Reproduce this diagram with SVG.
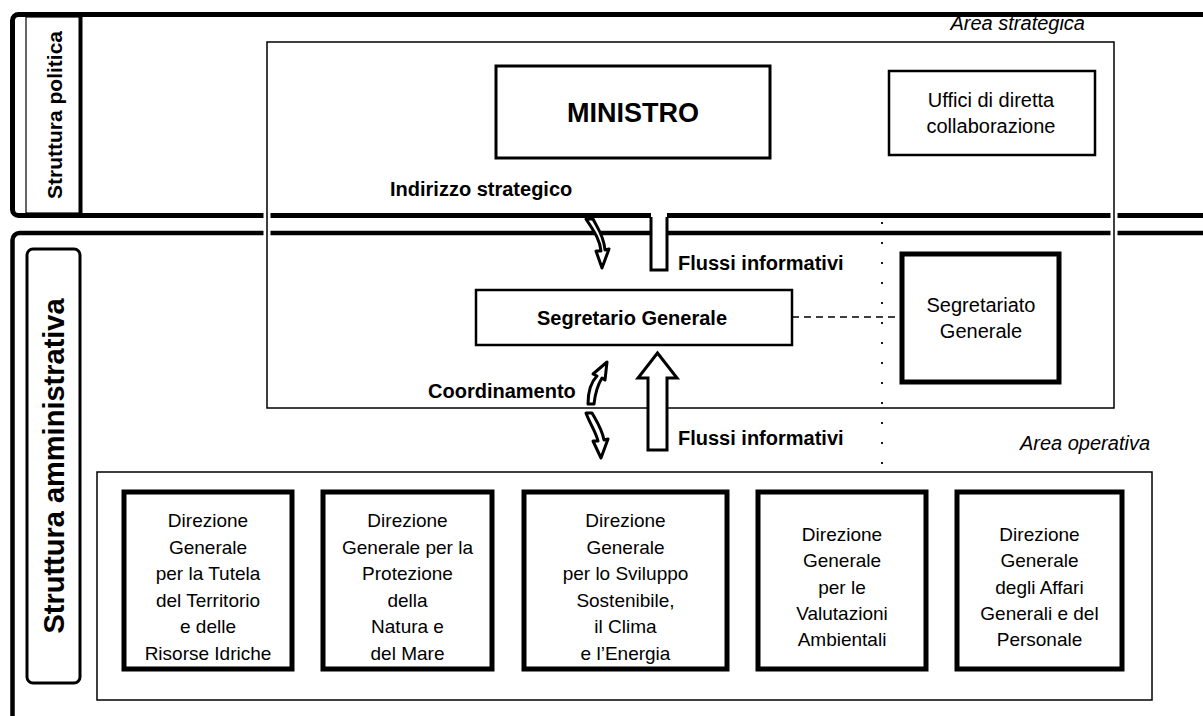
<svg xmlns="http://www.w3.org/2000/svg" width="1203" height="716" viewBox="0 0 1203 716">
<style>
.t{font-family:"Liberation Sans",Arial,sans-serif;fill:#000}
.b{font-weight:bold}
.i{font-style:italic}
.m{text-anchor:middle}
.thin{fill:none;stroke:#000;stroke-width:1.5}
.thick{fill:#fff;stroke:#000;stroke-width:5}
.arr{fill:#fff;stroke:#000;stroke-width:3;stroke-linejoin:round}
</style>
<rect width="1203" height="716" fill="#fff"/>

<g id="frame-politica">
<rect x="12.5" y="14.5" width="1230" height="201" rx="6" fill="none" stroke="#000" stroke-width="5"/>
<rect x="26" y="17" width="55" height="196" fill="none" stroke="#000" stroke-width="1.2"/>
<line x1="80.5" y1="17" x2="80.5" y2="213" stroke="#000" stroke-width="4"/>
<text class="t b" transform="translate(62,115) rotate(-90)" text-anchor="middle" font-size="21">Struttura politica</text>
</g>

<g id="frame-amministrativa">
<rect x="12.5" y="233" width="1230" height="540" rx="7" fill="none" stroke="#000" stroke-width="4.5"/>
<rect x="27" y="249" width="53" height="434" rx="6" fill="none" stroke="#000" stroke-width="3"/>
<text class="t b" transform="translate(64,466) rotate(-90)" text-anchor="middle" font-size="29">Struttura amministrativa</text>
</g>

<g id="area-strategica">
<line x1="267" y1="200" x2="267" y2="245" stroke="#fff" stroke-width="7"/>
<line x1="1114" y1="200" x2="1114" y2="245" stroke="#fff" stroke-width="7"/>
<rect x="267" y="42" width="847" height="366" class="thin"/>
<text class="t i" x="1085" y="30" text-anchor="end" font-size="20">Area strategica</text>
</g>

<g id="ministro">
<rect x="496" y="66" width="274" height="92" fill="#fff" stroke="#000" stroke-width="3"/>
<text class="t b m" x="633" y="122" font-size="27">MINISTRO</text>
</g>

<g id="uffici">
<rect x="889" y="71" width="206" height="84" fill="#fff" stroke="#000" stroke-width="2.5"/>
<text class="t m" x="991" y="107" font-size="20">Uffici di diretta</text>
<text class="t m" x="991" y="133" font-size="20">collaborazione</text>
</g>

<g id="segretario">
<rect x="476" y="290" width="316" height="55" fill="#fff" stroke="#000" stroke-width="2.5"/>
<text class="t b m" x="632" y="325" font-size="20">Segretario Generale</text>
</g>

<g id="segretariato">
<rect x="902" y="254" width="157" height="128" fill="#fff" stroke="#000" stroke-width="5"/>
<text class="t m" x="981" y="312" font-size="20">Segretariato</text>
<text class="t m" x="981" y="338" font-size="20">Generale</text>
</g>

<g id="area-operativa">
<rect x="97" y="472" width="1055" height="228" class="thin"/>
<text class="t i" x="1150" y="450" text-anchor="end" font-size="20">Area operativa</text>
</g>

<g id="dg1">
<rect x="124" y="492" width="168" height="177" class="thick"/>
<text class="t m" x="208" y="527" font-size="19"><tspan x="208">Direzione</tspan><tspan x="208" dy="26.5">Generale</tspan><tspan x="208" dy="26.5">per la Tutela</tspan><tspan x="208" dy="26.5">del Territorio</tspan><tspan x="208" dy="26.5">e delle</tspan><tspan x="208" dy="26.5">Risorse Idriche</tspan></text>
</g>
<g id="dg2">
<rect x="323" y="492" width="169" height="177" class="thick"/>
<text class="t m" x="407.5" y="527" font-size="19"><tspan x="407.5">Direzione</tspan><tspan x="407.5" dy="26.5">Generale per la</tspan><tspan x="407.5" dy="26.5">Protezione</tspan><tspan x="407.5" dy="26.5">della</tspan><tspan x="407.5" dy="26.5">Natura e</tspan><tspan x="407.5" dy="26.5">del Mare</tspan></text>
</g>
<g id="dg3">
<rect x="524" y="492" width="203" height="177" class="thick"/>
<text class="t m" x="625.5" y="527" font-size="19"><tspan x="625.5">Direzione</tspan><tspan x="625.5" dy="26.5">Generale</tspan><tspan x="625.5" dy="26.5">per lo Sviluppo</tspan><tspan x="625.5" dy="26.5">Sostenibile,</tspan><tspan x="625.5" dy="26.5">il Clima</tspan><tspan x="625.5" dy="26.5">e l’Energia</tspan></text>
</g>
<g id="dg4">
<rect x="758" y="492" width="168" height="177" class="thick"/>
<text class="t m" x="842" y="541" font-size="19"><tspan x="842">Direzione</tspan><tspan x="842" dy="26.3">Generale</tspan><tspan x="842" dy="26.3">per le</tspan><tspan x="842" dy="26.3">Valutazioni</tspan><tspan x="842" dy="26.3">Ambientali</tspan></text>
</g>
<g id="dg5">
<rect x="957" y="492" width="165" height="177" class="thick"/>
<text class="t m" x="1039.5" y="541" font-size="19"><tspan x="1039.5">Direzione</tspan><tspan x="1039.5" dy="26.3">Generale</tspan><tspan x="1039.5" dy="26.3">degli Affari</tspan><tspan x="1039.5" dy="26.3">Generali e del</tspan><tspan x="1039.5" dy="26.3">Personale</tspan></text>
</g>

<g id="connectors">
<line x1="792" y1="317" x2="902" y2="317" stroke="#000" stroke-width="1.5" stroke-dasharray="7 5"/>
<line x1="882" y1="222" x2="882" y2="468" stroke="#000" stroke-width="1.8" stroke-dasharray="2 18"/>
<rect x="651" y="211" width="16" height="58" fill="#fff"/>
<path d="M651,217 V270 H667 V217" fill="none" stroke="#000" stroke-width="3"/>
<path d="M648,450 V378 H638 L657.5,353 L677,378 H667 V450 Z" fill="#fff" stroke="#000" stroke-width="3" stroke-linejoin="miter"/>
<path class="arr" d="M586,219 C593,230 600,239 601,251 L596,251 L602,268 L609,249 L605,250 C604,236 597,227 593,219 Z"/>
<path class="arr" d="M588,404 C588,392 591,382 597,376 L593,374 L607,362 L605,380 L602,378 C597,386 595,395 594,404 Z"/>
<path class="arr" d="M586,413 C590,424 596,432 598,441 L593,441 L601,458 L608,439 L604,440 C602,429 596,420 592,413 Z"/>
</g>

<g id="labels">
<text class="t b" x="390" y="196" font-size="20">Indirizzo strategico</text>
<text class="t b" x="678" y="270" font-size="20">Flussi informativi</text>
<text class="t b" x="428" y="398" font-size="20">Coordinamento</text>
<text class="t b" x="678" y="445" font-size="20">Flussi informativi</text>
</g>
</svg>
